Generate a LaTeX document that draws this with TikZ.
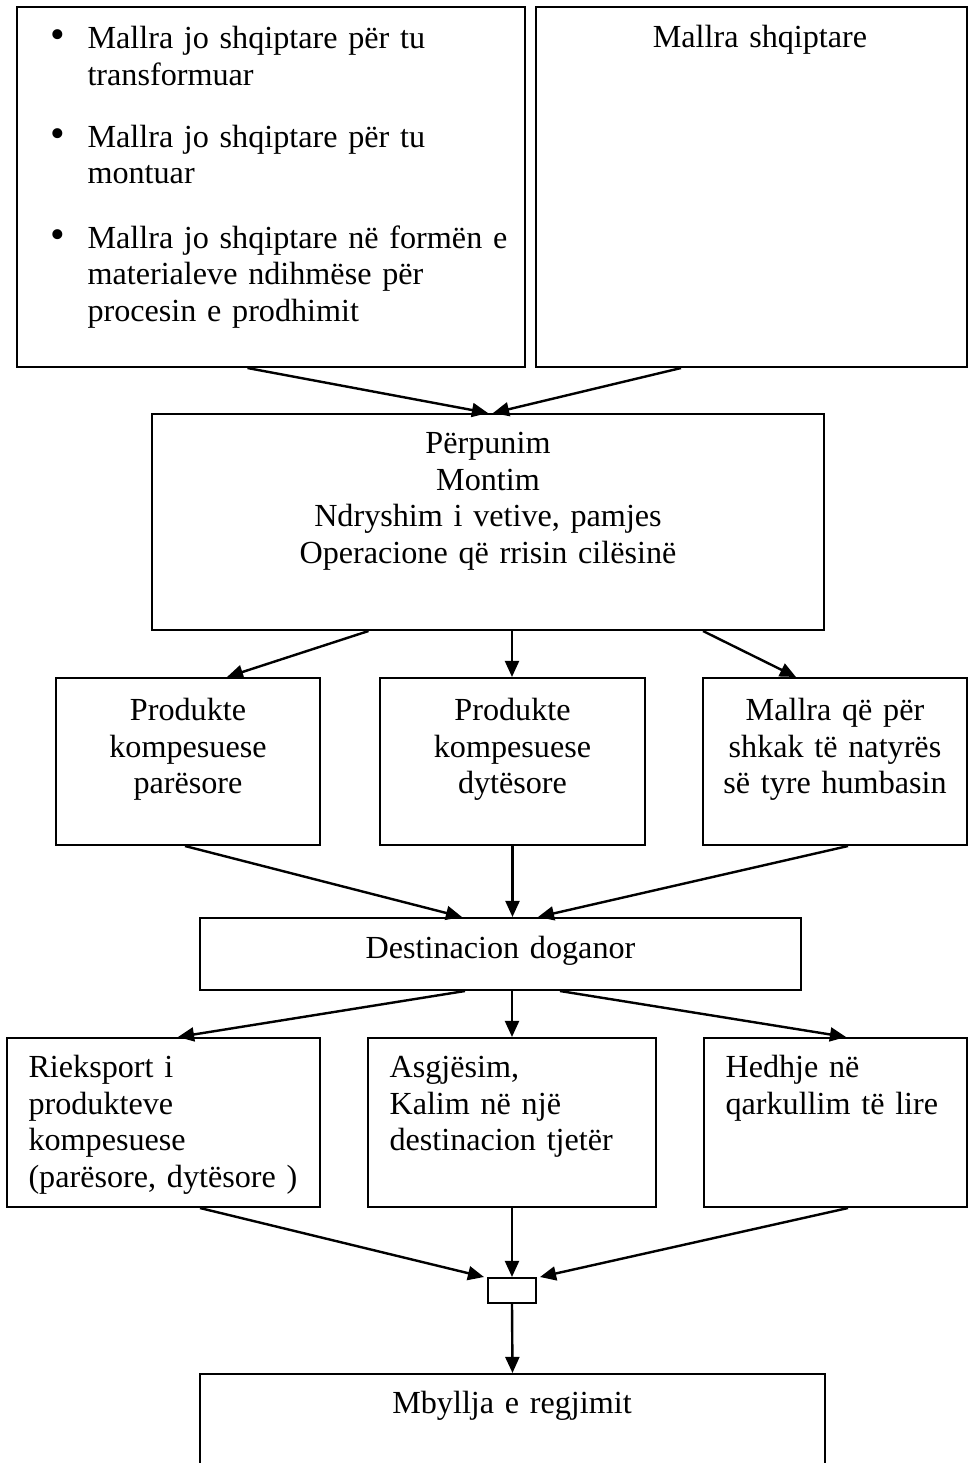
\documentclass[tikz,border=0pt]{standalone}
\usepackage{fontspec}
\setmainfont{Liberation Serif}
\usetikzlibrary{arrows.meta}
\newdimen\px \px=0.3731pt
\newcommand{\bul}[1]{\makebox[37\px][l]{\scalebox{1.3}{\textbullet}}\parbox[t]{420\px}{#1}}
\tikzset{
  box/.style={draw,line width=0.75pt,inner sep=0pt},
  txt/.style={inner sep=0pt,anchor=base,align=center,text width=#1},
  txt/.default=250\px,
  lft/.style={inner sep=0pt,anchor=base west,align=left,text width=#1},
  flow/.style={->,line width=0.9pt}
}
\begin{document}
\begin{tikzpicture}[x=\px,y=-\px,>={Triangle[length=6pt,width=5.2pt]},font=\fontsize{12pt}{13.8pt}\selectfont]
\useasboundingbox (0,0) rectangle (970,1463);
% boxes
\node[box,minimum width=508\px,minimum height=360\px] (A) at (271,187) {};
\node[box,minimum width=431\px,minimum height=360\px] (B) at (751.5,187) {};
\node[box,minimum width=672\px,minimum height=216\px] (C) at (488,522) {};
\node[box,minimum width=264\px,minimum height=167\px] (D1) at (188,761.5) {};
\node[box,minimum width=265\px,minimum height=167\px] (D2) at (512.5,761.5) {};
\node[box,minimum width=264\px,minimum height=167\px] (D3) at (835,761.5) {};
\node[box,minimum width=601\px,minimum height=72\px] (E) at (500.5,954) {};
\node[box,minimum width=313\px,minimum height=169\px] (F1) at (163.5,1122.5) {};
\node[box,minimum width=288\px,minimum height=169\px] (F2) at (512,1122.5) {};
\node[box,minimum width=263\px,minimum height=169\px] (F3) at (835.5,1122.5) {};
\node[box,minimum width=48\px,minimum height=25\px] (S) at (512,1290.5) {};
\node[box,minimum width=625\px,minimum height=126\px] (G) at (512.5,1437) {};
% texts
\node[lft=460\px] (tA1) at (50,48) {\bul{Mallra jo shqiptare për tu\\transformuar}};
\node[lft=460\px] (tA2) at (50,147) {\bul{Mallra jo shqiptare për tu\\montuar}};
\node[lft=460\px] (tA3) at (50,248) {\bul{Mallra jo shqiptare në formën e\\materialeve ndihmëse për\\procesin e prodhimit}};
\node[txt=400\px] (tB) at (760,47) {Mallra shqiptare};
\node[txt=600\px] (tC) at (488,453) {Përpunim\\Montim\\Ndryshim i vetive, pamjes\\Operacione që rrisin cilësinë};
\node[txt] (tD1) at (188,720) {Produkte\\kompesuese\\parësore};
\node[txt] (tD2) at (512.5,720) {Produkte\\kompesuese\\dytësore};
\node[txt] (tD3) at (835,720) {Mallra që për\\shkak të natyrës\\së tyre humbasin};
\node[txt=560\px] (tE) at (500.5,958) {Destinacion doganor};
\node[lft=290\px] (tF1) at (28,1077) {Rieksport i\\produkteve\\kompesuese\\(parësore, dytësore )};
\node[lft=260\px] (tF2) at (389,1077) {Asgjësim,\\Kalim në një\\destinacion tjetër};
\node[lft=240\px] (tF3) at (725,1077) {Hedhje në\\qarkullim të lire};
\node[txt=560\px] (tG) at (512,1413) {Mbyllja e regjimit};
% arrows
\draw[flow] (247.5,0 |- A.south) -- (488,0 |- C.north);
\draw[flow] (681,0 |- B.south) -- (493,0 |- C.north);
\draw[flow] (368.5,0 |- C.south) -- (227,0 |- D1.north);
\draw[flow] (512,0 |- C.south) -- (512,0 |- D2.north);
\draw[flow] (703,0 |- C.south) -- (796,0 |- D3.north);
\draw[flow] (185,0 |- D1.south) -- (462,0 |- E.north);
\draw[flow] (D2.south) -- (512.5,0 |- E.north);
\draw[flow] (848,0 |- D3.south) -- (538,0 |- E.north);
\draw[flow] (465,0 |- E.south) -- (178,0 |- F1.north);
\draw[flow] (512,0 |- E.south) -- (F2.north);
\draw[flow] (560,0 |- E.south) -- (846,0 |- F3.north);
\draw[flow] (200,0 |- F1.south) -- ([xshift=-3\px]S.north west);
\draw[flow] (F2.south) -- (S.north);
\draw[flow] (848,0 |- F3.south) -- ([xshift=3\px]S.north east);
\draw[flow] (S.south) -- (G.north);
\end{tikzpicture}
\end{document}
